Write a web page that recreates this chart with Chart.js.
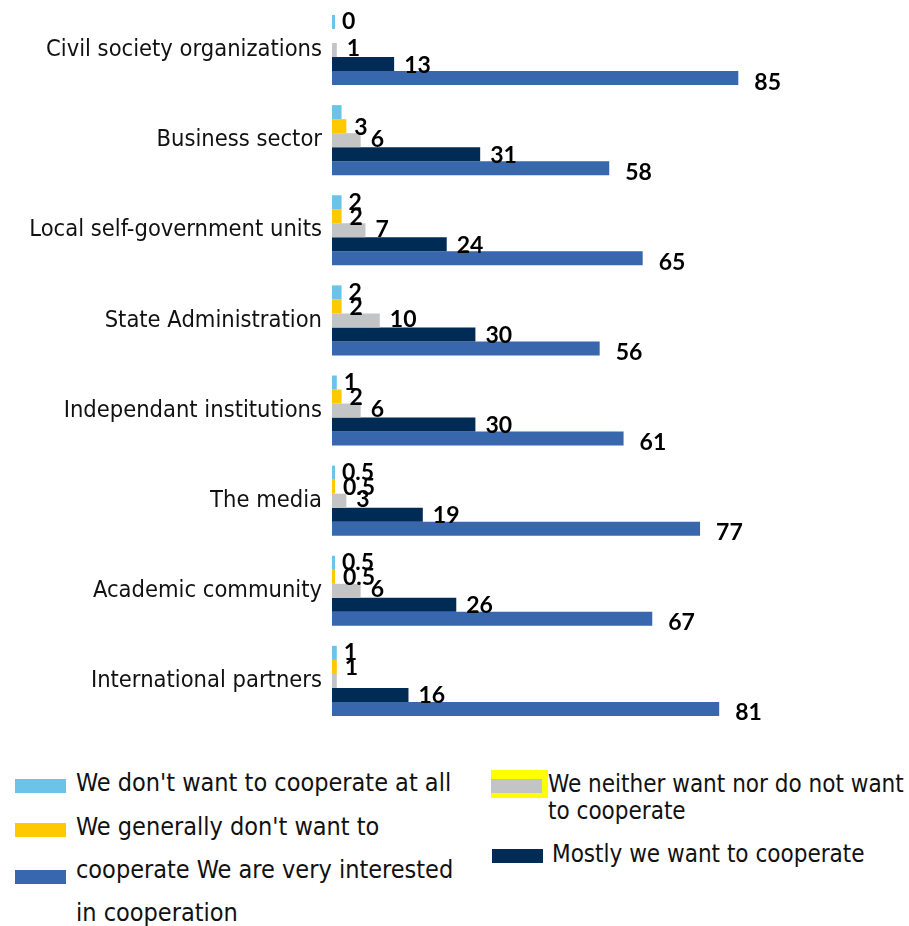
<!DOCTYPE html>
<html>
<head>
<meta charset="utf-8">
<script src="https://cdn.jsdelivr.net/npm/chart.js@4.4.0/dist/chart.umd.min.js"></script>
<style>
  html, body { margin: 0; padding: 0; background: #fff; width: 909px; height: 926px; overflow: hidden; }
  #wrap { position: absolute; left: 0; top: 0; width: 909px; height: 740px; }
  .lg { position: absolute; font-family: "DejaVu Sans Condensed", "DejaVu Sans", sans-serif; font-size: 25px; color: #111; white-space: nowrap; line-height: 27px; }
  .lg.r { font-size: 24px; }
  .sw { position: absolute; width: 51px; height: 14px; }
</style>
</head>
<body>
<div id="wrap"><canvas id="c" width="909" height="740"></canvas></div>

<div class="sw" style="left:15px;top:779px;background:#6BC4E8"></div>
<div class="lg" style="left:76px;top:769px">We don't want to cooperate at all</div>
<div class="sw" style="left:15px;top:823px;background:#FFC900"></div>
<div class="lg" style="left:76px;top:813px">We generally don't want to</div>
<div class="sw" style="left:15px;top:870px;background:#3867AD"></div>
<div class="lg" style="left:76px;top:856px">cooperate We are very interested</div>
<div class="lg" style="left:76px;top:899px">in cooperation</div>

<div class="sw" style="left:491px;top:770px;width:57px;height:28px;background:#FFFF00"></div>
<div class="sw" style="left:491px;top:779px;width:51px;height:14px;background:#C3C4C6"></div>
<div class="lg r" style="left:548px;top:771px">We neither want nor do not want<br>to cooperate</div>
<div class="sw" style="left:492px;top:849px;background:#002B54"></div>
<div class="lg r" style="left:552px;top:841px">Mostly we want to cooperate</div>

<script>
const categories = ['Civil society organizations','Business sector','Local self-government units','State Administration','Independant institutions','The media','Academic community','International partners'];
const notAtAll     = [0, 2, 2, 2, 1, 0.5, 0.5, 1];
const generallyNot = [null, 3, 2, 2, 2, 0.5, 0.5, 1];
const neither      = [1, 6, 7, 10, 6, 3, 6, 1];
const mostly       = [13, 31, 24, 30, 30, 19, 26, 16];
const veryMuch     = [85, 58, 65, 56, 61, 77, 67, 81];

const notAtAllLabels     = ['0', '', '2', '2', '1', '0.5', '0.5', '1'];
const generallyNotLabels = ['', '3', '2', '2', '2', '0.5', '0.5', '1'];
const neitherLabels      = ['1', '6', '7', '10', '6', '3', '6', ''];
const mostlyLabels       = mostly.map(String);
const veryMuchLabels     = veryMuch.map(String);

const labelPlugin = {
  id: 'barLabels',
  afterDatasetsDraw(chart) {
    const ctx = chart.ctx;
    ctx.save();
    ctx.font = 'bold 23px Lato, "Open Sans", sans-serif';
    ctx.fillStyle = '#000';
    ctx.textBaseline = 'middle';
    ctx.textAlign = 'left';
    chart.data.datasets.forEach((ds, i) => {
      const meta = chart.getDatasetMeta(i);
      meta.data.forEach((el, j) => {
        const t = ds.labelTexts[j];
        if (!t) return;
        ctx.fillText(t, el.x + ds.labelDx, el.y + ds.labelDy);
      });
    });
    ctx.restore();
  }
};

const common = { barPercentage: 1.0, categoryPercentage: 0.778, borderWidth: 0 };

new Chart(document.getElementById('c'), {
  type: 'bar',
  data: {
    labels: categories,
    datasets: [
      Object.assign({ label: "We don't want to cooperate at all", data: notAtAll, backgroundColor: '#6BC4E8', minBarLength: 3, labelTexts: notAtAllLabels, labelDx: 7, labelDy: 0 }, common),
      Object.assign({ label: "We generally don't want to cooperate", data: generallyNot, backgroundColor: '#FFC900', minBarLength: 3, labelTexts: generallyNotLabels, labelDx: 8, labelDy: 1 }, common),
      Object.assign({ label: 'We neither want nor do not want to cooperate', data: neither, backgroundColor: '#C3C4C6', minBarLength: 3, labelTexts: neitherLabels, labelDx: 10, labelDy: -1 }, common),
      Object.assign({ label: 'Mostly we want to cooperate', data: mostly, backgroundColor: '#002B54', labelTexts: mostlyLabels, labelDx: 10, labelDy: 1 }, common),
      Object.assign({ label: 'We are very interested in cooperation', data: veryMuch, backgroundColor: '#3867AD', labelTexts: veryMuchLabels, labelDx: 16, labelDy: 4 }, common)
    ]
  },
  options: {
    indexAxis: 'y',
    responsive: false,
    animation: false,
    layout: { padding: { top: 5, bottom: 14, right: 99, left: 0 } },
    plugins: { legend: { display: false }, tooltip: { enabled: false } },
    scales: {
      x: { display: false, min: 0, max: 100 },
      y: {
        grid: { display: false, drawTicks: false },
        border: { display: false },
        ticks: { color: '#111', padding: 10, font: { family: '"DejaVu Sans Condensed", "DejaVu Sans", sans-serif', size: 23.5 } },
        afterFit(scale) { scale.width = 332; scale.paddingTop = 0; scale.paddingBottom = 0; }
      }
    }
  },
  plugins: [labelPlugin]
});
</script>
</body>
</html>
